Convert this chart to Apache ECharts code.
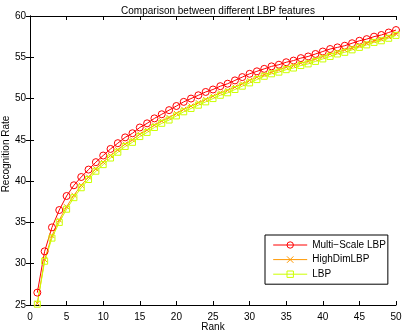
<!DOCTYPE html>
<html>
<head>
<meta charset="utf-8">
<script src="https://cdn.jsdelivr.net/npm/echarts@6/dist/echarts.min.js"></script>
<style>
html,body{margin:0;padding:0;background:#fff;}
#c{width:402px;height:330px;}
</style>
</head>
<body>
<div id="c"></div>
<script>
var ranks = [];
for (var i = 1; i <= 50; i++) ranks.push(i);
var multiScale = [26.5,31.5,34.4,36.5,38.2,39.5,40.5,41.4,42.3,43.1,
  43.9,44.6,45.3,45.8,46.5,47.0,47.6,48.1,48.6,49.1,
  49.6,50.0,50.4,50.8,51.1,51.5,51.8,52.2,52.6,53.0,
  53.3,53.6,53.9,54.1,54.4,54.6,54.9,55.1,55.4,55.7,
  56.0,56.2,56.4,56.7,57.0,57.2,57.5,57.7,58.0,58.3];
var highDim = [25.2,30.5,33.4,35.3,36.9,38.3,39.5,40.5,41.5,42.3,
  43.1,43.8,44.5,45.0,45.7,46.2,46.8,47.3,47.7,48.2,
  48.7,49.1,49.5,49.9,50.3,50.7,51.0,51.4,51.8,52.2,
  52.6,52.9,53.2,53.5,53.8,54.0,54.3,54.5,54.8,55.1,
  55.4,55.6,55.9,56.1,56.4,56.7,57.0,57.2,57.5,57.85];
var lbp = [25.1,30.3,33.1,35.0,36.6,38.0,39.2,40.2,41.2,42.0,
  42.8,43.5,44.2,44.7,45.4,45.9,46.5,47.0,47.4,47.9,
  48.4,48.8,49.2,49.6,50.0,50.4,50.7,51.1,51.5,51.9,
  52.3,52.7,53.0,53.2,53.5,53.7,54.0,54.2,54.5,54.8,
  55.1,55.4,55.6,55.9,56.2,56.5,56.8,57.0,57.3,57.65];
var xTicks = [0,5,10,15,20,25,30,35,40,45,50];
var yTicks = [25,30,35,40,45,50,55,60];
var seriesNames = ['Multi\u2212Scale LBP','HighDimLBP','LBP'];

function pairs(vals){ return ranks.map(function(r,i){ return [r, vals[i]]; }); }

var FONT = "'Liberation Sans', Arial, Helvetica, sans-serif";
var FS = 10;
var chart = echarts.init(document.getElementById('c'), null, {renderer:'canvas'});
var tickStyle = {show:true, inside:true, length:4, lineStyle:{color:'#000', width:1}};
var lineAx = {show:true, lineStyle:{color:'#000', width:1}};
function mkSeries(name, vals, color, symbol, size){
  return {
    name:name, type:'line', data:pairs(vals), xAxisIndex:0, yAxisIndex:0,
    symbol:symbol, symbolSize:size, showAllSymbol:true, clip:false,
    lineStyle:{color:color, width:1},
    itemStyle:{color:'rgba(0,0,0,0)', borderColor:color, borderWidth:1},
    emphasis:{disabled:true}, animation:false
  };
}
chart.setOption({
  animation:false,
  backgroundColor:'#fff',
  textStyle:{fontFamily:FONT},
  title:{text:'Comparison between different LBP features', left:213, textAlign:'center', top:1,
    textStyle:{fontSize:FS, fontWeight:'normal', color:'#000', fontFamily:FONT}},
  grid:{left:30, right:6, top:16, bottom:25, containLabel:false, outerBoundsMode:'none'},
  legend:{
    data:seriesNames, orient:'vertical', left:265, top:235,
    itemWidth:34, itemHeight:8, itemGap:4.6,
    padding:[5,2,5,7.7],
    borderColor:'#000', borderWidth:1, backgroundColor:'#fff',
    lineStyle:{width:1},
    itemStyle:{borderWidth:1},
    textStyle:{fontSize:FS, color:'#000', fontFamily:FONT}
  },
  xAxis:[{
    type:'value', min:0, max:50, interval:5, position:'bottom',
    name:'Rank', nameLocation:'middle', nameGap:17, nameMoveOverlap:false,
    nameTextStyle:{fontSize:FS, color:'#000', fontFamily:FONT},
    axisLine:lineAx, axisTick:tickStyle, splitLine:{show:false},
    axisLabel:{color:'#000', fontSize:FS, margin:7, fontFamily:FONT,
      formatter:function(v){ return xTicks.indexOf(v)>=0 ? String(v) : ''; }}
  },{
    type:'value', min:0, max:50, interval:5, position:'top',
    axisLine:lineAx, axisTick:tickStyle, splitLine:{show:false}, axisLabel:{show:false}
  }],
  yAxis:[{
    type:'value', min:25, max:60, interval:5, position:'left',
    name:'Recognition Rate', nameLocation:'middle', nameGap:19, nameMoveOverlap:false,
    nameTextStyle:{fontSize:FS, color:'#000', fontFamily:FONT, padding:[0,0,0,13]},
    axisLine:lineAx, axisTick:tickStyle, splitLine:{show:false},
    axisLabel:{color:'#000', fontSize:FS, margin:4, fontFamily:FONT,
      formatter:function(v){ return yTicks.indexOf(v)>=0 ? String(v) : ''; }}
  },{
    type:'value', min:25, max:60, interval:5, position:'right',
    axisLine:lineAx, axisTick:tickStyle, splitLine:{show:false}, axisLabel:{show:false}
  }],
  series:[
    mkSeries(seriesNames[0], multiScale, '#ff0000', 'circle', 7),
    mkSeries(seriesNames[1], highDim, '#ff9900', 'path://M0,0L10,10M10,0L0,10', 5),
    mkSeries(seriesNames[2], lbp, '#ccff00', 'rect', 6)
  ]
});
</script>
</body>
</html>
